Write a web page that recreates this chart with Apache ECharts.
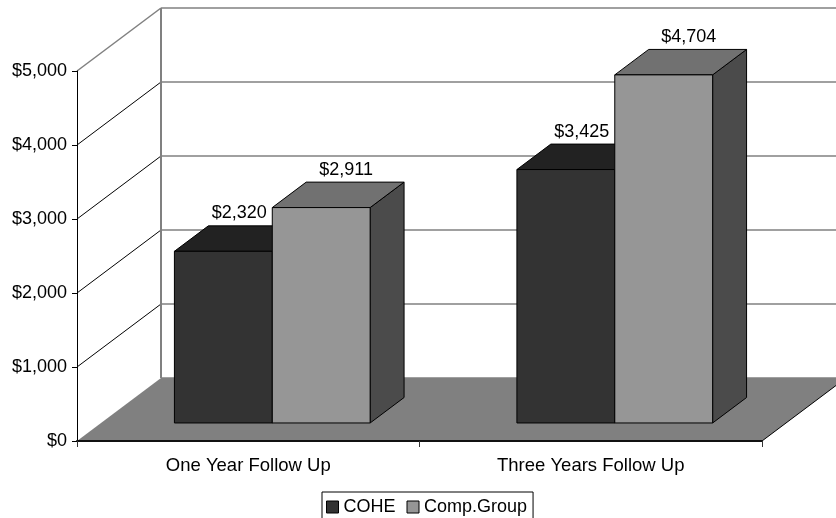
<!DOCTYPE html>
<html>
<head>
<meta charset="utf-8">
<script src="https://cdn.jsdelivr.net/npm/echarts@6/dist/echarts.min.js"></script>
<style>
  html, body { margin: 0; padding: 0; background: #ffffff; }
  #chart { width: 836px; height: 518px; }
</style>
</head>
<body>
<div id="chart"></div>
<script>
// Follow-up costs per patient group
const categories = ['One Year Follow Up', 'Three Years Follow Up'];
const seriesNames = ['COHE', 'Comp.Group'];
const coheCosts = [2320, 3425];
const compGroupCosts = [2911, 4704];
const valueTicks = [0, 1000, 2000, 3000, 4000, 5000];

const FONT = "'Liberation Sans', Arial, sans-serif";
// Pixel offset from the front plane to the back wall of the 3D box
const DEPTH_X = 84, DEPTH_Y = -63;
// Bars occupy this slice of the box depth
const BAR_FRONT = 0.286, BAR_BACK = 0.69;
// Bar width as a fraction of one category band (gap width 150%)
const BAR_FRAC = 1 / 3.5;

const money = v => '$' + Number(v).toLocaleString('en-US');

const chart = echarts.init(document.getElementById('chart'), null, { renderer: 'canvas' });

// Back wall gridlines plus the diagonal lines on the left wall
function renderWall(params, api) {
  const cs = params.coordSys;
  const v = api.value(0);
  const y = api.coord([0, v])[1];
  const x0 = cs.x, x1 = cs.x + cs.width;
  const top = v === valueTicks[valueTicks.length - 1];
  const children = [{
    type: 'line',
    shape: { x1: x0 + DEPTH_X, y1: y + DEPTH_Y, x2: x1 + DEPTH_X, y2: y + DEPTH_Y },
    style: { stroke: '#808080', lineWidth: 1.5 }
  }];
  if (v !== 0) {
    children.push({
      type: 'line',
      shape: { x1: x0, y1: y, x2: x0 + DEPTH_X, y2: y + DEPTH_Y },
      style: { stroke: top ? '#808080' : '#000000', lineWidth: top ? 1.5 : 1 }
    });
  }
  if (top) {
    const yb = api.coord([0, 0])[1];
    children.push({
      type: 'line',
      shape: { x1: x0 + DEPTH_X, y1: y + DEPTH_Y, x2: x0 + DEPTH_X, y2: yb + DEPTH_Y },
      style: { stroke: '#808080', lineWidth: 2 }
    });
  }
  return { type: 'group', children };
}

// Grey floor of the 3D box
function renderFloor(params, api) {
  const cs = params.coordSys;
  const y = api.coord([0, 0])[1];
  const x0 = cs.x, x1 = cs.x + cs.width;
  return {
    type: 'group',
    children: [{
      type: 'polygon',
      shape: { points: [[x0, y], [x1, y], [x1 + DEPTH_X, y + DEPTH_Y], [x0 + DEPTH_X, y + DEPTH_Y]] },
      style: { fill: '#808080' }
    }, {
      type: 'line',
      shape: { x1: x1, y1: y, x2: x1 + DEPTH_X, y2: y + DEPTH_Y },
      style: { stroke: '#000000', lineWidth: 1 }
    }]
  };
}

function makeBarRenderer(side, colors, labelShift) {
  return function (params, api) {
    const idx = api.value(0);
    const v = api.value(1);
    const base = api.coord([idx, 0]);
    const tip = api.coord([idx, v]);
    const band = api.size([1, 0])[0];
    const w = band * BAR_FRAC;
    const xl = base[0] + (side === 0 ? -w : 0);
    const fdx = DEPTH_X * BAR_FRONT, fdy = DEPTH_Y * BAR_FRONT;
    const bdx = DEPTH_X * BAR_BACK, bdy = DEPTH_Y * BAR_BACK;
    const yt = tip[1], yb = base[1];
    const edge = { stroke: '#000000', lineWidth: 1, lineJoin: 'round' };
    return {
      type: 'group',
      children: [{
        type: 'polygon',
        shape: { points: [[xl + w + fdx, yt + fdy], [xl + w + bdx, yt + bdy], [xl + w + bdx, yb + bdy], [xl + w + fdx, yb + fdy]] },
        style: Object.assign({ fill: colors.side }, edge)
      }, {
        type: 'polygon',
        shape: { points: [[xl + fdx, yt + fdy], [xl + w + fdx, yt + fdy], [xl + w + bdx, yt + bdy], [xl + bdx, yt + bdy]] },
        style: Object.assign({ fill: colors.top }, edge)
      }, {
        type: 'rect',
        shape: { x: xl + fdx, y: yt + fdy, width: w, height: yb - yt },
        style: Object.assign({ fill: colors.front }, edge)
      }, {
        type: 'text',
        x: xl + w / 2 + (fdx + bdx) / 2 + labelShift,
        y: yt + bdy - 12.5,
        style: {
          text: money(v), fill: '#000000', font: '18px ' + FONT,
          align: 'center', verticalAlign: 'middle'
        }
      }]
    };
  };
}

const option = {
  animation: false,
  backgroundColor: '#ffffff',
  textStyle: { fontFamily: FONT },
  grid: { left: 77, top: 71, width: 685, height: 370, outerBoundsMode: 'none', containLabel: false },
  xAxis: {
    type: 'category',
    data: categories,
    boundaryGap: true,
    z: 10,
    axisLine: { show: true, lineStyle: { color: '#111111', width: 2 } },
    axisTick: { show: true, alignWithLabel: false, length: 6, lineStyle: { color: '#333333', width: 1 } },
    axisLabel: { fontSize: 18.5, color: '#000000', fontFamily: FONT, margin: 15 },
    splitLine: { show: false }
  },
  yAxis: {
    type: 'value',
    min: valueTicks[0],
    max: valueTicks[valueTicks.length - 1],
    interval: 1000,
    z: 10,
    axisLine: { show: true, lineStyle: { color: '#000000', width: 1 } },
    axisTick: { show: true, length: 5, lineStyle: { color: '#000000' } },
    axisLabel: { fontSize: 18, color: '#000000', fontFamily: FONT, margin: 10, formatter: money },
    splitLine: { show: false }
  },
  legend: {
    data: seriesNames,
    left: 322,
    top: 492,
    orient: 'horizontal',
    padding: [6, 6, 6, 4],
    itemGap: 11,
    itemWidth: 12,
    itemHeight: 12,
    icon: 'rect',
    borderColor: '#000000',
    borderWidth: 1,
    backgroundColor: '#ffffff',
    selectedMode: false,
    itemStyle: { borderColor: '#000000', borderWidth: 1 },
    textStyle: { fontSize: 18, color: '#000000', fontFamily: FONT }
  },
  series: [{
    type: 'custom',
    name: 'wall',
    silent: true,
    z: 1,
    renderItem: renderWall,
    data: valueTicks.map(v => [v])
  }, {
    type: 'custom',
    name: 'floor',
    silent: true,
    z: 2,
    renderItem: renderFloor,
    data: [[0]]
  }, {
    type: 'custom',
    name: seriesNames[0],
    z: 3,
    itemStyle: { color: '#333333' },
    renderItem: makeBarRenderer(0, { front: '#333333', top: '#222222', side: '#1c1c1c' }, -1),
    data: coheCosts.map((v, i) => [i, v])
  }, {
    type: 'custom',
    name: seriesNames[1],
    z: 3,
    itemStyle: { color: '#969696' },
    renderItem: makeBarRenderer(1, { front: '#969696', top: '#717171', side: '#4b4b4b' }, 8),
    data: compGroupCosts.map((v, i) => [i, v])
  }]
};

chart.setOption(option);
</script>
</body>
</html>
